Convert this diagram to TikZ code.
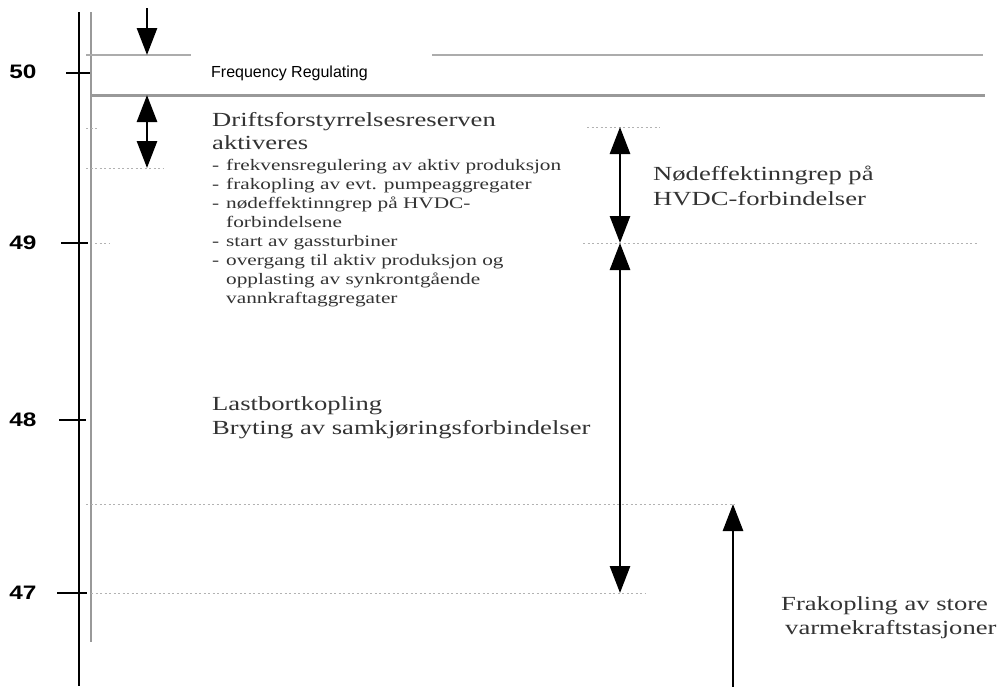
\documentclass[tikz,border=0pt]{standalone}
\usepackage{fontspec}
\setmainfont{Liberation Serif}
\newfontfamily\wideserif[FakeStretch=1.33]{Liberation Serif}
\newfontfamily\widesans[FakeStretch=1.25]{Liberation Sans}
\newfontfamily\plainsans{Liberation Sans}
\usetikzlibrary{arrows.meta}

\tikzset{
  axisline/.style={line width=2pt, black},
  guide/.style={line width=2.4pt, color=gray!80},
  thinguide/.style={line width=1.3pt, color=gray!65},
  dotguide/.style={line width=0.9pt, color=gray!60, dash pattern=on 2pt off 2.5pt},
  tickmark/.style={line width=2pt, black},
  bigarrow/.style={line width=2.8pt, -{Triangle[length=27pt,width=20pt]}},
  dblarrow/.style={line width=2.8pt, {Triangle[length=27pt,width=20pt]}-{Triangle[length=27pt,width=20pt]}},
  axislabel/.style={font=\widesans\bfseries\fontsize{19.5}{20}\selectfont, inner sep=0pt},
  bigtext/.style={font=\wideserif\fontsize{20}{24}\selectfont, text=black!80, inner sep=0pt, anchor=base west},
  smalltext/.style={font=\wideserif\fontsize{16}{19}\selectfont, text=black!80, inner sep=0pt, anchor=base west},
  boxtext/.style={font=\plainsans\fontsize{16}{18}\selectfont, inner sep=0pt, anchor=base west},
}

\begin{document}
\begin{tikzpicture}[x=1pt,y=-1pt]
\useasboundingbox (0,0) rectangle (1008,686);
\fill[white] (0,0) rectangle (1008,686);

% frequency axis and its grey companion line
\coordinate (axtop) at (79,12);
\coordinate (axbot) at (79,686);
\coordinate (gvtop) at (91,12);
\coordinate (gvbot) at (91,642);
\draw[axisline] (axtop) -- (axbot);
\draw[guide] (gvtop) -- (gvbot);

% ticks and labels
\coordinate (t50a) at (66,73);  \coordinate (t50b) at (90,73);
\coordinate (t49a) at (61,243); \coordinate (t49b) at (88,243);
\coordinate (t48a) at (59,420); \coordinate (t48b) at (86,420);
\coordinate (t47a) at (57,593); \coordinate (t47b) at (87,593);
\draw[tickmark] (t50a) -- (t50b);
\draw[tickmark] (t49a) -- (t49b);
\draw[tickmark] (t48a) -- (t48b);
\draw[tickmark, line width=2.6pt] (t47a) -- (t47b);
\node[axislabel] (l50) at (23,72) {50};
\node[axislabel] (l49) at (23,243) {49};
\node[axislabel] (l48) at (23,420) {48};
\node[axislabel] (l47) at (23,593) {47};

% band of frequency regulation around 50 Hz
\coordinate (ua) at (86,55);  \coordinate (ub) at (191,55);
\coordinate (uc) at (432,55); \coordinate (ud) at (983,55);
\draw[thinguide] (ua) -- (ub);
\draw[thinguide] (uc) -- (ud);
\coordinate (la) at (91,95); \coordinate (lb) at (985,95);
\draw[guide, line width=3pt] (la) -- (lb);
\node[boxtext] (freq) at (211,77) {Frequency Regulating};

% dotted level markers
\coordinate (d1a) at (86,128);  \coordinate (d1b) at (98,128);
\coordinate (d2a) at (86,168);  \coordinate (d2b) at (163,168);
\coordinate (d3a) at (95,243);  \coordinate (d3b) at (110,243);
\coordinate (d4a) at (587,127); \coordinate (d4b) at (660,127);
\coordinate (d5a) at (583,243); \coordinate (d5b) at (977,243);
\coordinate (d6a) at (86,504);  \coordinate (d6b) at (735,504);
\coordinate (d7a) at (91,593);  \coordinate (d7b) at (645,593);
\draw[dotguide] (d1a) -- (d1b);
\draw[dotguide] (d2a) -- (d2b);
\draw[dotguide] (d3a) -- (d3b);
\draw[dotguide] (d4a) -- (d4b);
\draw[dotguide] (d5a) -- (d5b);
\draw[dotguide] (d6a) -- (d6b);
\draw[dotguide] (d7a) -- (d7b);

% arrows
\coordinate (a1s) at (147,8);   \coordinate (a1e) at (147,55);
\coordinate (a2s) at (147,95);  \coordinate (a2e) at (147,168);
\coordinate (b1s) at (620,127); \coordinate (b1e) at (620,243);
\coordinate (b2e) at (620,593);
\coordinate (c1s) at (733,690); \coordinate (c1e) at (733,504);
\draw[bigarrow] (a1s) -- (a1e);
\draw[dblarrow] (a2s) -- (a2e);
\draw[dblarrow] (b1s) -- (b1e);
\draw[dblarrow] (b1e) -- (b2e);
\draw[bigarrow] (c1s) -- (c1e);

% texts
\node[bigtext] (dr1) at (212,126) {Driftsforstyrrelsesreserven};
\node[bigtext] (dr2) at (212,149) {aktiveres};

\node[smalltext] (m1) at (212,170.0) {-};
\node[smalltext] (m2) at (212,189.1) {-};
\node[smalltext] (m3) at (212,208.2) {-};
\node[smalltext] (m5) at (212,246.4) {-};
\node[smalltext] (m6) at (212,265.5) {-};
\node[smalltext] (i1) at (226,170.0) {frekvensregulering av aktiv produksjon};
\node[smalltext] (i2) at (226,189.1) {frakopling av evt. pumpeaggregater};
\node[smalltext] (i3) at (226,208.2) {nødeffektinngrep på HVDC-};
\node[smalltext] (i4) at (226,227.3) {forbindelsene};
\node[smalltext] (i5) at (226,246.4) {start av gassturbiner};
\node[smalltext] (i6) at (226,265.5) {overgang til aktiv produksjon og};
\node[smalltext] (i7) at (226,284.6) {opplasting av synkrontgående};
\node[smalltext] (i8) at (226,303.7) {vannkraftaggregater};

\node[bigtext] (nd1) at (653,180) {Nødeffektinngrep på};
\node[bigtext] (nd2) at (653,205) {HVDC-forbindelser};

\node[bigtext] (lb1) at (212,410) {Lastbortkopling};
\node[bigtext] (lb2) at (212,434) {Bryting av samkjøringsforbindelser};

\node[bigtext] (fr1) at (781,610) {Frakopling av store};
\node[bigtext] (fr2) at (785,634) {varmekraftstasjoner};
\end{tikzpicture}
\end{document}
